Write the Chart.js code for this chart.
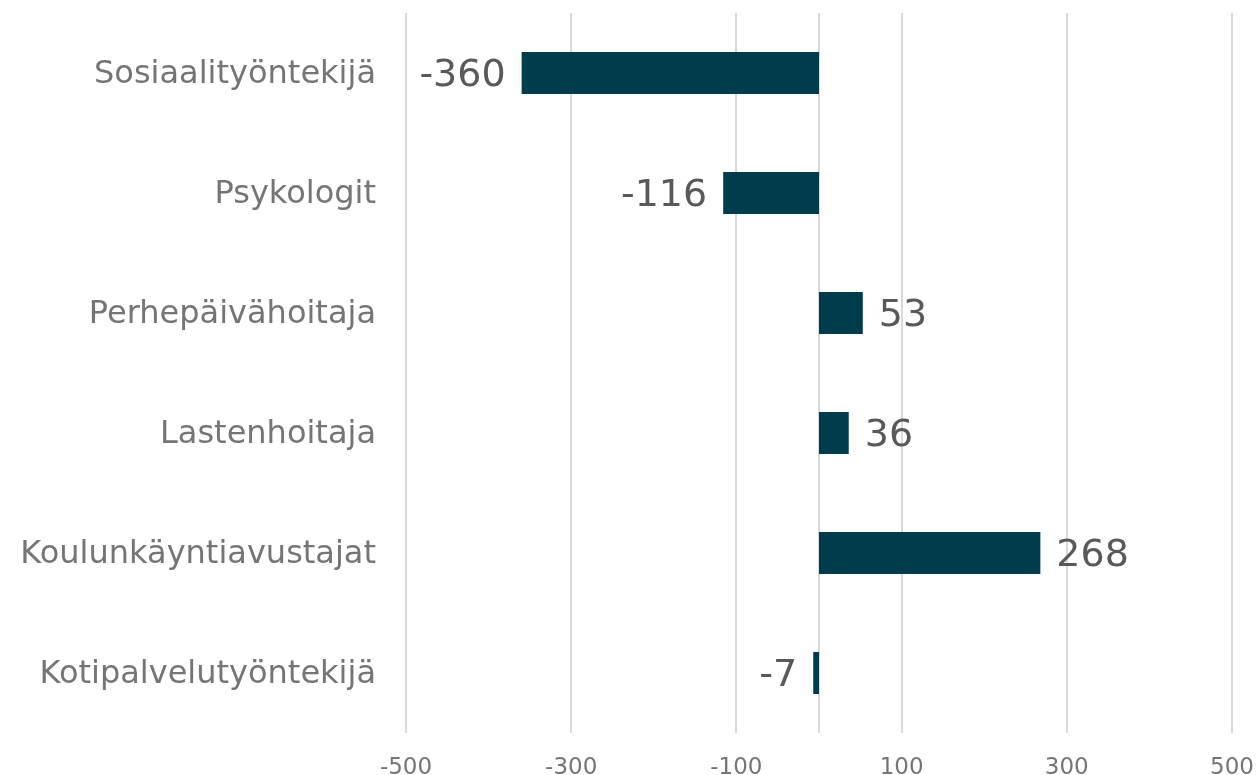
<!DOCTYPE html>
<html lang="fi">
  <head>
    <meta charset="UTF-8" />
    <title>Muutos</title>
    <style>
      html, body { margin: 0; padding: 0; background: #fff; }
      .wrap { width: 1257px; height: 775px; }
    </style>
  </head>
  <body>
    <div class="wrap">
      <canvas id="chart" width="1257" height="775"></canvas>
    </div>

    <script src="https://cdn.jsdelivr.net/npm/chart.js"></script>
    <script>
      const categories = [
        "Sosiaalityöntekijä",
        "Psykologit",
        "Perhepäivähoitaja",
        "Lastenhoitaja",
        "Koulunkäyntiavustajat",
        "Kotipalvelutyöntekijä",
      ];
      const values = [-360, -116, 53, 36, 268, -7];
      const tickValues = [-500, -300, -100, 100, 300, 500];

      const FONT = "'DejaVu Sans', Verdana, sans-serif";

      // arvot palkkien päähän + nollaviiva
      const labelPlugin = {
        id: "barLabels",
        beforeDatasetsDraw(chart) {
          const ctx = chart.ctx;
          const x = chart.scales.x.getPixelForValue(0);
          ctx.save();
          ctx.strokeStyle = "#d9d9d9";
          ctx.lineWidth = 2;
          ctx.beginPath();
          ctx.moveTo(x, chart.chartArea.top);
          ctx.lineTo(x, chart.chartArea.bottom);
          ctx.stroke();
          ctx.restore();
        },
        afterDatasetsDraw(chart) {
          const ctx = chart.ctx;
          const meta = chart.getDatasetMeta(0);
          ctx.save();
          ctx.font = "38px " + FONT;
          ctx.fillStyle = "#595959";
          ctx.textBaseline = "middle";
          meta.data.forEach((bar, i) => {
            const v = values[i];
            if (v < 0) {
              ctx.textAlign = "right";
              ctx.fillText(String(v), bar.x - 16, bar.y + 3);
            } else {
              ctx.textAlign = "left";
              ctx.fillText(String(v), bar.x + 16, bar.y + 3);
            }
          });
          ctx.restore();
        },
      };

      new Chart(document.getElementById("chart").getContext("2d"), {
        type: "bar",
        data: {
          labels: categories,
          datasets: [
            {
              data: values,
              backgroundColor: "#003d4c",
              categoryPercentage: 1,
              barPercentage: 0.35,
            },
          ],
        },
        options: {
          indexAxis: "y",
          responsive: false,
          animation: false,
          layout: { padding: { top: 13, right: 25, bottom: 0, left: 0 } },
          plugins: {
            legend: { display: false },
            tooltip: { enabled: false },
          },
          scales: {
            x: {
              min: -500,
              max: 500,
              afterBuildTicks(axis) {
                axis.ticks = tickValues.map((v) => ({ value: v }));
              },
              afterFit(axis) {
                axis.height = 42;
                axis.paddingLeft = 0;
                axis.paddingRight = 0;
              },
              grid: { color: "#d9d9d9", lineWidth: 2, drawTicks: false },
              border: { display: false },
              ticks: {
                color: "#757575",
                font: { family: FONT, size: 23 },
                padding: 21,
              },
            },
            y: {
              afterFit(axis) {
                axis.width = 406;
                axis.paddingTop = 0;
                axis.paddingBottom = 0;
              },
              grid: { display: false, drawTicks: false },
              border: { display: false },
              ticks: {
                color: "#757575",
                font: { family: FONT, size: 32 },
                padding: 30,
                labelOffset: 2,
              },
            },
          },
        },
        plugins: [labelPlugin],
      });
    </script>
  </body>
</html>
